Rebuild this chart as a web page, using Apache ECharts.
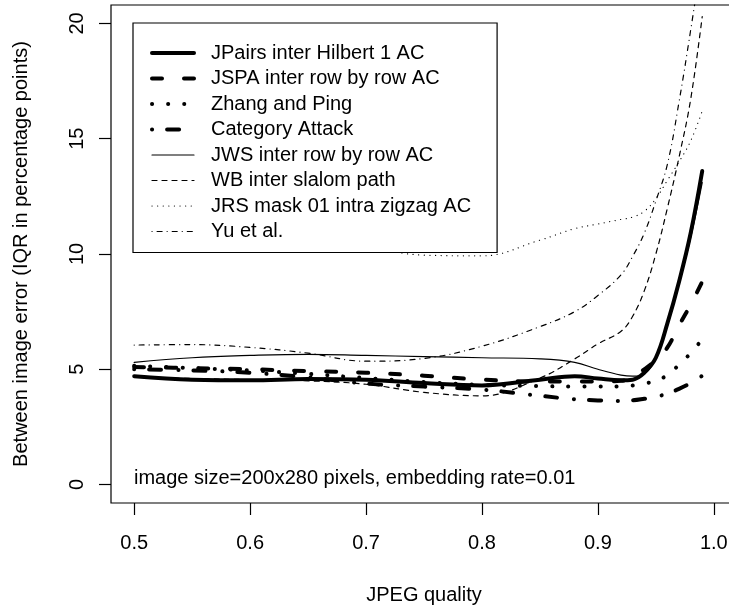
<!DOCTYPE html>
<html>
<head>
<meta charset="utf-8">
<script src="https://cdn.jsdelivr.net/npm/echarts@6/dist/echarts.min.js"></script>
<style>
html, body { margin: 0; padding: 0; background: #fff; }
#chart { width: 729px; height: 610px; }
</style>
</head>
<body>
<div id="chart"></div>
<script>
const FONT = 'Liberation Sans, Arial, Helvetica, sans-serif'

// JPEG quality values (x)
const quality = [0.5, 0.55, 0.6, 0.65, 0.7, 0.75, 0.8, 0.85, 0.88, 0.9, 0.92, 0.93, 0.94, 0.95, 0.96, 0.97, 0.98, 0.99]

// between image error, IQR in percentage points
const jpairs   = [4.7, 4.55, 4.52, 4.58, 4.55, 4.4, 4.3, 4.55, 4.7, 4.6, 4.52, 4.55, 4.85, 5.5, 7.0, 8.8, 10.9, 13.6]
const jspa     = [5.1, 5.05, 5.0, 4.92, 4.85, 4.72, 4.55, 4.47, 4.47, 4.47, 4.5, 4.65, 5.0, 5.4, 5.95, 6.9, 7.8, 8.8]
const zhang    = [5.15, 5.05, 4.95, 4.8, 4.62, 4.45, 4.32, 4.27, 4.25, 4.25, 4.26, 4.3, 4.38, 4.5, 4.75, 5.2, 5.7, 6.3]
const category = [5.0, 4.95, 4.85, 4.65, 4.38, 4.25, 4.12, 3.85, 3.7, 3.65, 3.62, 3.65, 3.72, 3.8, 3.95, 4.15, 4.4, 4.72]
const jws      = [5.3, 5.5, 5.6, 5.65, 5.6, 5.55, 5.5, 5.45, 5.3, 5.0, 4.75, 4.7, 4.8, 5.5, 6.9, 8.7, 10.7, 13.1]
const wb       = [4.65, 4.6, 4.55, 4.5, 4.35, 4.0, 3.85, 4.62, 5.45, 6.1, 6.65, 7.3, 8.4, 10.0, 12.0, 14.2, 16.7, 20.3]
const jrs      = [10.9, 10.6, 10.4, 10.3, 10.25, 9.95, 9.92, 10.6, 11.1, 11.3, 11.5, 11.6, 11.85, 12.4, 13.2, 14.0, 14.9, 16.2]
const yu       = [6.05, 6.07, 5.95, 5.7, 5.35, 5.47, 6.0, 6.85, 7.5, 8.2, 9.1, 9.9, 10.9, 12.3, 13.9, 16.6, 19.7, 23.0]

const xTicks = [0.5, 0.6, 0.7, 0.8, 0.9, 1.0]
const yTicks = [0, 5, 10, 15, 20]

const seriesDefs = [
	{ name: 'JPairs inter Hilbert 1 AC', data: jpairs, width: 4, type: 'solid' },
	{ name: 'JSPA inter row by row AC', data: jspa, width: 4, type: [10, 22] },
	{ name: 'Zhang and Ping', data: zhang, width: 4, type: [0.1, 16] },
	{ name: 'Category Attack', data: category, width: 4, type: [0.1, 15, 12, 17] },
	{ name: 'JWS inter row by row AC', data: jws, width: 1.2, type: 'solid' },
	{ name: 'WB inter slalom path', data: wb, width: 1.2, type: [5, 5] },
	{ name: 'JRS mask 01 intra zigzag AC', data: jrs, width: 1.2, type: [0.1, 5.5] },
	{ name: 'Yu et al.', data: yu, width: 1.2, type: [0.1, 5, 5, 5] }
]

// plot box (R draws it around the whole plotting region)
const box = { left: 111, top: 5, width: 626, height: 498 }

const chart = echarts.init(document.getElementById('chart'))

const option = {
	animation: false,
	backgroundColor: '#fff',
	textStyle: { fontFamily: FONT, color: '#000' },
	grid: {
		left: box.left, top: box.top, width: box.width, height: box.height,
		outerBoundsMode: 'none', containLabel: false, show: false
	},
	xAxis: {
		type: 'value', min: 0.48, max: 1.02,
		name: 'JPEG quality', nameLocation: 'middle', nameGap: 82,
		nameTextStyle: { fontSize: 20, fontFamily: FONT, color: '#000' },
		axisLine: { show: false, onZero: false },
		axisTick: { show: true, inside: false, length: 12, customValues: xTicks, lineStyle: { color: '#000', width: 1.2 } },
		axisLabel: { fontSize: 20, fontFamily: FONT, color: '#000', margin: 30, customValues: xTicks,
			formatter: v => v.toFixed(1) },
		splitLine: { show: false }
	},
	yAxis: {
		type: 'value', min: -0.8, max: 20.8,
		name: 'Between image error (IQR in percentage points)', nameLocation: 'middle', nameGap: 80,
		nameRotate: 90,
		nameTextStyle: { fontSize: 20, fontFamily: FONT, color: '#000' },
		axisLine: { show: false, onZero: false },
		axisTick: { show: true, inside: false, length: 12, customValues: yTicks, lineStyle: { color: '#000', width: 1.2 } },
		axisLabel: { fontSize: 20, fontFamily: FONT, color: '#000', margin: 24, rotate: 90, customValues: yTicks },
		splitLine: { show: false }
	},
	legend: {
		orient: 'vertical', left: 133, top: 23,
		selectedMode: false,
		backgroundColor: '#fff', borderColor: '#000', borderWidth: 1.2,
		padding: [20, 26, 11, 17],
		itemWidth: 42, itemHeight: 14, itemGap: 5.5,
		itemStyle: { opacity: 0, borderWidth: 0 },
		lineStyle: { width: 'inherit', type: 'inherit', cap: 'inherit' },
		textStyle: { fontSize: 20, fontFamily: FONT, color: '#000', lineHeight: 20, padding: [0, 0, 0, 12] },
		data: seriesDefs.map(s => s.name)
	},
	graphic: [
		{
			type: 'polyline', z: 0, silent: true,
			shape: { points: [
				[box.left + box.width, box.top], [box.left, box.top],
				[box.left, box.top + box.height], [box.left + box.width, box.top + box.height]
			] },
			style: { stroke: '#000', lineWidth: 1.2, fill: null }
		},
		{
			type: 'text', left: 134, top: 468,
			style: { text: 'image size=200x280 pixels, embedding rate=0.01', font: '20px ' + FONT, fill: '#000' }
		}
	],
	series: seriesDefs.map(s => ({
		name: s.name,
		type: 'line',
		data: quality.map((q, i) => [q, s.data[i]]),
		smooth: 0.4,
		showSymbol: false,
		symbol: 'none',
		color: '#000',
		clip: true,
		lineStyle: { color: '#000', width: s.width, type: s.type, cap: 'round', join: 'round' }
	}))
}

chart.setOption(option)
</script>
</body>
</html>
